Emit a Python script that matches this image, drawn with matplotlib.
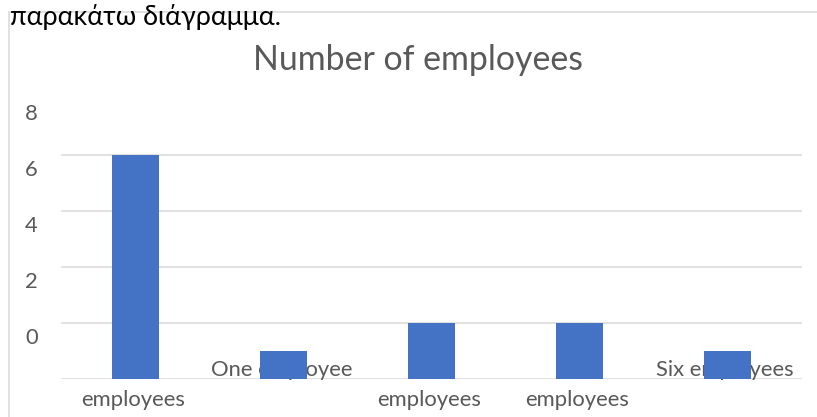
import matplotlib
matplotlib.use("Agg")
import matplotlib.pyplot as plt
from matplotlib.transforms import ScaledTranslation
from matplotlib.lines import Line2D

# ---- data ----
categories = ["\nemployees", "One employee", "\nemployees", "\nemployees", "Six employees"]
values = [8, 1, 2, 2, 1]
y_ticks = [0, 2, 4, 6, 8]
y_tick_labels = ["0", "2", "4", "6", "8"]
title = "Number of employees"
page_text = "παρακάτω διάγραμμα."

W, H = 817, 417
DPI = 100
fig = plt.figure(figsize=(W / DPI, H / DPI), dpi=DPI)
fig.patch.set_facecolor("white")

FONT = "Lato"
GRAY = "#595959"
GRID = "#d9d9d9"
BAR = "#4472C4"
TICK_FS = 15.8

def fx(px):
    return px / W

def fy(py):
    return 1 - py / H

# chart frame (top and left border)
fig.add_artist(Line2D([fx(9), fx(817)], [fy(12), fy(12)], color=GRID, lw=1.1,
                      transform=fig.transFigure))
fig.add_artist(Line2D([fx(9), fx(9)], [fy(12), fy(417)], color=GRID, lw=1.1,
                      transform=fig.transFigure))

# axes: x from 61.5 to 801.5 px, y 0 at 378.5 px, 28 px per unit
ymax = 8.5
left, right = 61.5, 801.5
bottom = 378.5
top = bottom - ymax * 28
ax = fig.add_axes([fx(left), fy(bottom), fx(right - left), (bottom - top) / H])
ax.set_facecolor("none")
ax.set_xlim(-0.5, len(values) - 0.5)
ax.set_ylim(0, ymax)
for s in ax.spines.values():
    s.set_visible(False)
ax.set_yticks(y_ticks)
ax.set_yticklabels([])
ax.set_xticks([])
ax.tick_params(length=0)
ax.yaxis.grid(True, color=GRID, lw=1.1)
ax.set_axisbelow(True)

xs = list(range(len(values)))
ax.bar(xs, values, width=0.318, color=BAR, zorder=3)

# y tick labels (drawn offset above their gridlines, as in the source)
ytrans = ax.get_yaxis_transform() + ScaledTranslation(0, 40 / DPI, fig.dpi_scale_trans)
for v, lab in zip(y_ticks, y_tick_labels):
    ax.text((38 - left) / (right - left), v, lab, transform=ytrans, ha="right", va="center",
            fontsize=TICK_FS, color=GRAY, family=FONT, clip_on=False, zorder=1)

# category labels (drawn beneath the bars)
for x, lab in zip(xs, categories):
    lines = lab.split("\n")
    xtrans = ax.get_xaxis_transform()
    if lines[0]:
        t = xtrans + ScaledTranslation(0, 8 / DPI, fig.dpi_scale_trans)
        ax.text(x - 0.015, 0, lines[0], transform=t, ha="center", va="center",
                fontsize=TICK_FS, color=GRAY, family=FONT, clip_on=False, zorder=1)
    if len(lines) > 1:
        t = xtrans + ScaledTranslation(0, -21 / DPI, fig.dpi_scale_trans)
        ax.text(x - 0.015, 0, lines[1], transform=t, ha="center", va="center",
                fontsize=TICK_FS, color=GRAY, family=FONT, clip_on=False, zorder=1)

# chart title
fig.text(fx(418), fy(70), title, ha="center", va="baseline", fontsize=24.4,
         color=GRAY, family=FONT)

# page text above the chart
fig.text(fx(10), fy(25), page_text, ha="left", va="baseline", fontsize=19.4,
         color="black", family=FONT)

fig.savefig("out.png", dpi=DPI, facecolor="white")
